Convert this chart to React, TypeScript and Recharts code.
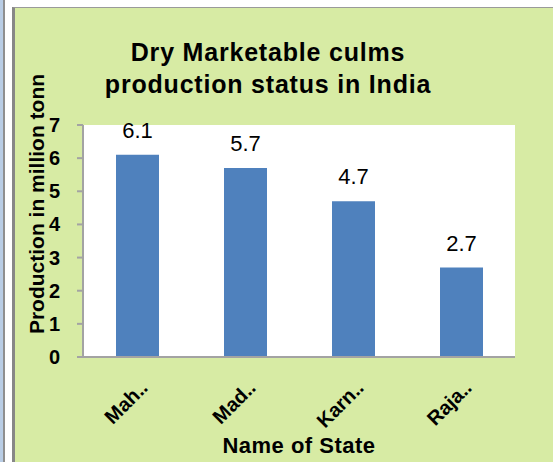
import React from 'react';
import { BarChart, Bar, XAxis, YAxis, CartesianGrid, LabelList, Customized } from 'recharts';

// values
const states = ['Mah..', 'Mad..', 'Karn..', 'Raja..'];
const production = [6.1, 5.7, 4.7, 2.7];
const yTicks = [0, 1, 2, 3, 4, 5, 6, 7];
const titleLines = ['Dry Marketable culms', 'production status in India'];
const yTitle = 'Production in million tonn';
const xTitle = 'Name of State';

const data = states.map((s, i) => ({ state: s, value: production[i] }));

const FONT = '"Liberation Sans", Arial, sans-serif';
const AXIS_GRAY = '#a3a3a3';

const StateTick = (props: any) => {
  const { x, y, payload } = props;
  return (
    <g transform={`translate(${x + 12},${y + 32})`}>
      <text
        textAnchor="end"
        transform="rotate(-45)"
        fontFamily={FONT}
        fontSize={20}
        fontWeight="bold"
        fill="#000"
      >
        {payload.value}
      </text>
    </g>
  );
};

const YTick = (props: any) => {
  const { x, y, payload } = props;
  return (
    <text
      x={x}
      y={y}
      dy={7}
      textAnchor="end"
      fontFamily={FONT}
      fontSize={20}
      fontWeight="bold"
      fill="#000"
    >
      {payload.value}
    </text>
  );
};

const Titles = () => (
  <g fontFamily={FONT} fontWeight="bold" fill="#000">
    {titleLines.map((line, i) => (
      <text key={line} x={253} y={53 + i * 32} textAnchor="middle" fontSize={25} letterSpacing={0.8}>
        {line}
      </text>
    ))}
    <text x={29} y={196} textAnchor="middle" fontSize={21} transform="rotate(-90 29 196)">
      {yTitle}
    </text>
    <text x={284} y={445} textAnchor="middle" fontSize={22} letterSpacing={0.5}>
      {xTitle}
    </text>
  </g>
);

const App: React.FC = () => {
  return (
    <div style={{ position: 'absolute', left: 0, top: 0, width: 553, height: 462, background: '#fff', overflow: 'hidden' }}>
      <div style={{ position: 'absolute', left: 0, top: 0, width: 3, height: 462, background: '#b9cde5' }} />
      <div style={{ position: 'absolute', left: 3, top: 0, width: 2, height: 462, background: '#8f8f8f' }} />
      <div
        style={{
          position: 'absolute',
          left: 12,
          top: 7,
          width: 541,
          height: 455,
          boxSizing: 'border-box',
          borderLeft: '3px solid #878787',
          borderTop: '1px solid #9a9a9a',
          background: '#d7eba4',
        }}
      />
      <div style={{ position: 'absolute', left: 15, top: 8 }}>
        <BarChart
          width={538}
          height={454}
          data={data}
          margin={{ top: 117, right: 38, bottom: 45, left: 28 }}
        >
          <CartesianGrid fill="#ffffff" horizontal={false} vertical={false} />
          <XAxis
            dataKey="state"
            height={60}
            tickLine={false}
            tickSize={0}
            tickMargin={0}
            axisLine={{ stroke: AXIS_GRAY, strokeWidth: 2 }}
            tick={<StateTick />}
            interval={0}
          />
          <YAxis
            width={40}
            domain={[0, 7]}
            ticks={yTicks}
            interval={0}
            tickSize={6}
            tickMargin={17}
            axisLine={{ stroke: AXIS_GRAY, strokeWidth: 2 }}
            tickLine={{ stroke: AXIS_GRAY, strokeWidth: 2 }}
            tick={<YTick />}
          />
          <Bar dataKey="value" fill="#4f81bd" barSize={43} isAnimationActive={false}>
            <LabelList
              dataKey="value"
              position="top"
              offset={17}
              fontFamily={FONT}
              fontSize={22}
              fill="#000"
            />
          </Bar>
          <Customized component={Titles} />
        </BarChart>
      </div>
    </div>
  );
};

export default App;
